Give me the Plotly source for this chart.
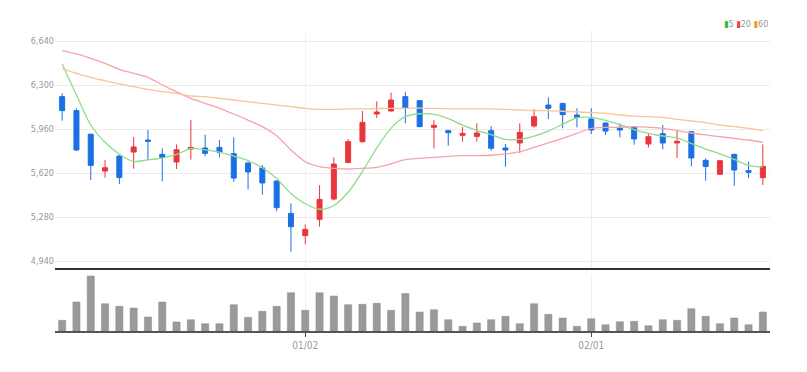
import plotly.graph_objects as go

dates = ["12/07", "12/08", "12/09", "12/12", "12/13", "12/14", "12/15", "12/16", "12/19", "12/20",
         "12/21", "12/22", "12/23", "12/26", "12/27", "12/28", "12/29",
         "01/02", "01/03", "01/04", "01/05", "01/06", "01/09", "01/10", "01/11", "01/12", "01/13",
         "01/16", "01/17", "01/18", "01/19", "01/20", "01/25", "01/26", "01/27", "01/30", "01/31",
         "02/01", "02/02", "02/03", "02/06", "02/07", "02/08", "02/09", "02/10", "02/13", "02/14",
         "02/15", "02/16", "02/17"]

opens = [6210, 6102, 5919, 5635, 5751, 5782, 5875, 5764, 5705, 5805,
         5813, 5818, 5769, 5697, 5659, 5558, 5308, 5136, 5262, 5419,
         5702, 5862, 6076, 6099, 6210, 6179, 5973, 5947, 5911, 5903,
         5947, 5813, 5852, 5983, 6145, 6158, 6068, 6037, 6006, 5973,
         5973, 5844, 5924, 5852, 5939, 5718, 5610, 5764, 5638, 5584]
highs = [6236, 6120, 5925, 5720, 5756, 5898, 5952, 5810, 5841, 6029,
         5916, 5875, 5895, 5707, 5682, 5562, 5385, 5223, 5526, 5741,
         5883, 6099, 6174, 6241, 6248, 6184, 6029, 5952, 5975, 6004,
         5983, 5844, 6004, 6114, 6205, 6162, 6120, 6120, 6011, 6004,
         5983, 5921, 5991, 5952, 5944, 5733, 5720, 5766, 5707, 5841]
lows = [6024, 5790, 5566, 5584, 5535, 5653, 5720, 5556, 5651, 5723,
        5749, 5741, 5553, 5494, 5452, 5324, 5012, 5069, 5205, 5410,
        5695, 5855, 6045, 6095, 6004, 5975, 5810, 5831, 5862, 5862,
        5792, 5669, 5774, 5970, 6037, 5965, 5973, 5921, 5914, 5896,
        5839, 5818, 5803, 5736, 5671, 5561, 5605, 5522, 5579, 5527]
closes = [6102, 5798, 5679, 5661, 5586, 5821, 5865, 5741, 5800, 5818,
          5772, 5780, 5581, 5628, 5543, 5352, 5205, 5184, 5416, 5689,
          5862, 6011, 6091, 6184, 6125, 5978, 5988, 5931, 5926, 5929,
          5811, 5798, 5934, 6055, 6120, 6071, 6050, 5952, 5944, 5952,
          5883, 5901, 5852, 5865, 5736, 5671, 5715, 5643, 5625, 5671]
volumes = [107000, 290000, 550000, 273000, 247000, 230000, 140000, 290000, 90000, 113000,
           73000, 73000, 263000, 137000, 197000, 247000, 383000, 207000, 383000, 350000,
           263000, 267000, 277000, 207000, 375000, 190000, 213000, 113000, 47000, 80000,
           113000, 147000, 73000, 273000, 167000, 130000, 47000, 123000, 63000, 93000,
           97000, 53000, 113000, 107000, 223000, 147000, 73000, 130000, 63000, 190000]
ma5 = [6465, 6223, 5991, 5857, 5765, 5709, 5722, 5735, 5763, 5809,
       5799, 5782, 5750, 5716, 5661, 5577, 5462, 5382, 5340, 5369,
       5471, 5632, 5814, 5967, 6055, 6078, 6073, 6041, 5990, 5950,
       5917, 5879, 5880, 5905, 5944, 5996, 6046, 6050, 6027, 5994,
       5956, 5926, 5906, 5891, 5847, 5805, 5768, 5726, 5678, 5665]
ma20 = [6565, 6540, 6506, 6467, 6421, 6390, 6359, 6300, 6248, 6197,
        6158, 6120, 6076, 6029, 5978, 5908, 5798, 5707, 5669, 5656,
        5651, 5656, 5664, 5690, 5723, 5733, 5741, 5749, 5754, 5754,
        5757, 5767, 5785, 5818, 5852, 5888, 5926, 5965, 5973, 5973,
        5978, 5973, 5965, 5947, 5929, 5914, 5901, 5888, 5875, 5857]
ma60 = [6424, 6390, 6359, 6333, 6308, 6287, 6266, 6248, 6236, 6215,
        6210, 6197, 6184, 6171, 6158, 6145, 6133, 6120, 6112, 6112,
        6115, 6115, 6117, 6120, 6120, 6122, 6120, 6117, 6115, 6115,
        6115, 6112, 6107, 6102, 6102, 6097, 6092, 6087, 6081, 6068,
        6060, 6055, 6050, 6035, 6022, 6009, 5991, 5978, 5965, 5947]

price_ticks = [4940, 5280, 5620, 5960, 6300, 6640]
date_ticks = ["01/02", "02/01"]
ma_names = ["5", "20", "60"]

UP = "#e8363c"
DOWN = "#1a6fe3"
MA_COLORS = ["#8edc8a", "#f4a3ab", "#f8c596"]
LEG_COLORS = ["#2dbb2d", "#ee3f4f", "#f5952a"]
FONT = "Liberation Sans Narrow, DejaVu Sans Condensed, Arial Narrow, Roboto, sans-serif"

fig = go.Figure()

fig.add_trace(go.Candlestick(
    x=dates, open=opens, high=highs, low=lows, close=closes,
    increasing=dict(line=dict(color=UP, width=1), fillcolor=UP),
    decreasing=dict(line=dict(color=DOWN, width=1), fillcolor=DOWN),
    xaxis="x", yaxis="y", showlegend=False, hoverinfo="skip"))

for vals, col in zip([ma5, ma20, ma60], MA_COLORS):
    fig.add_trace(go.Scatter(
        x=dates, y=vals, mode="lines",
        line=dict(color=col, width=1.3, shape="spline", smoothing=0.8),
        xaxis="x", yaxis="y", showlegend=False, hoverinfo="skip"))

fig.add_trace(go.Bar(
    x=dates, y=volumes, marker=dict(color="#9a9a9a", line=dict(color="#8a8a8a", width=0.5)),
    width=0.5, xaxis="x2", yaxis="y2", showlegend=False, hoverinfo="skip"))

# page body has an 8px margin; compensate so plot area sits at x 55-770, y 30-331
OFF = 8
W, H = 807 - OFF, 372 - OFF
top, bottom = 30, 331
left, right = 55, 770
ph = bottom - top
price_bottom = 268
vol_top = 273.8

legend_html = " ".join(
    f'<span style="color:{c}">▮</span><span style="color:#999">{n}</span>'
    for c, n in zip(LEG_COLORS, ma_names))

fig.update_layout(
    width=W, height=H,
    margin=dict(l=left - OFF, r=807 - right, t=top - OFF, b=372 - bottom, autoexpand=False),
    paper_bgcolor="white", plot_bgcolor="white",
    boxgap=0.5,
    font=dict(family=FONT, size=10, color="#999"),
    xaxis=dict(
        type="category", categoryorder="array", categoryarray=dates,
        range=[-0.5, len(dates) - 0.5], domain=[0, 1],
        anchor="y", rangeslider=dict(visible=False),
        showticklabels=False, tickvals=date_ticks, ticks="",
        showgrid=True, gridcolor="#f0f0f0", gridwidth=1,
        showline=True, linecolor="#333", linewidth=2, mirror=False,
        zeroline=False, fixedrange=True, automargin=False),
    yaxis=dict(
        domain=[(bottom - price_bottom) / ph, 1],
        range=[6640 - (price_bottom - 41) * 1700 / 220, 6640 + (41 - top) * 1700 / 220],
        tickvals=price_ticks, tickformat=",", ticks="",
        showgrid=True, gridcolor="#ebebeb", gridwidth=1,
        zeroline=False, showline=False, automargin=False,
        tickfont=dict(family=FONT, size=9, color="#999")),
    xaxis2=dict(
        type="category", categoryorder="array", categoryarray=dates,
        range=[-0.5, len(dates) - 0.5], domain=[0, 1], anchor="y2",
        tickvals=date_ticks, ticktext=date_ticks,
        ticks="outside", ticklen=4, tickcolor="#444", tickwidth=1,
        showgrid=True, gridcolor="#f0f0f0",
        showline=True, linecolor="#555", linewidth=2,
        zeroline=False, automargin=False,
        tickfont=dict(family=FONT, size=10, color="#999")),
    yaxis2=dict(
        domain=[0, (bottom - vol_top) / ph],
        range=[0, 572000],
        showticklabels=False, showgrid=False, zeroline=False, showline=False, ticks=""),
    annotations=[dict(
        xref="paper", yref="paper", x=1.0, y=1.0, xanchor="right", yanchor="bottom",
        yshift=-1, showarrow=False, text=legend_html,
        font=dict(family=FONT, size=9, color="#999"))],
)

fig.write_html("out.html")
